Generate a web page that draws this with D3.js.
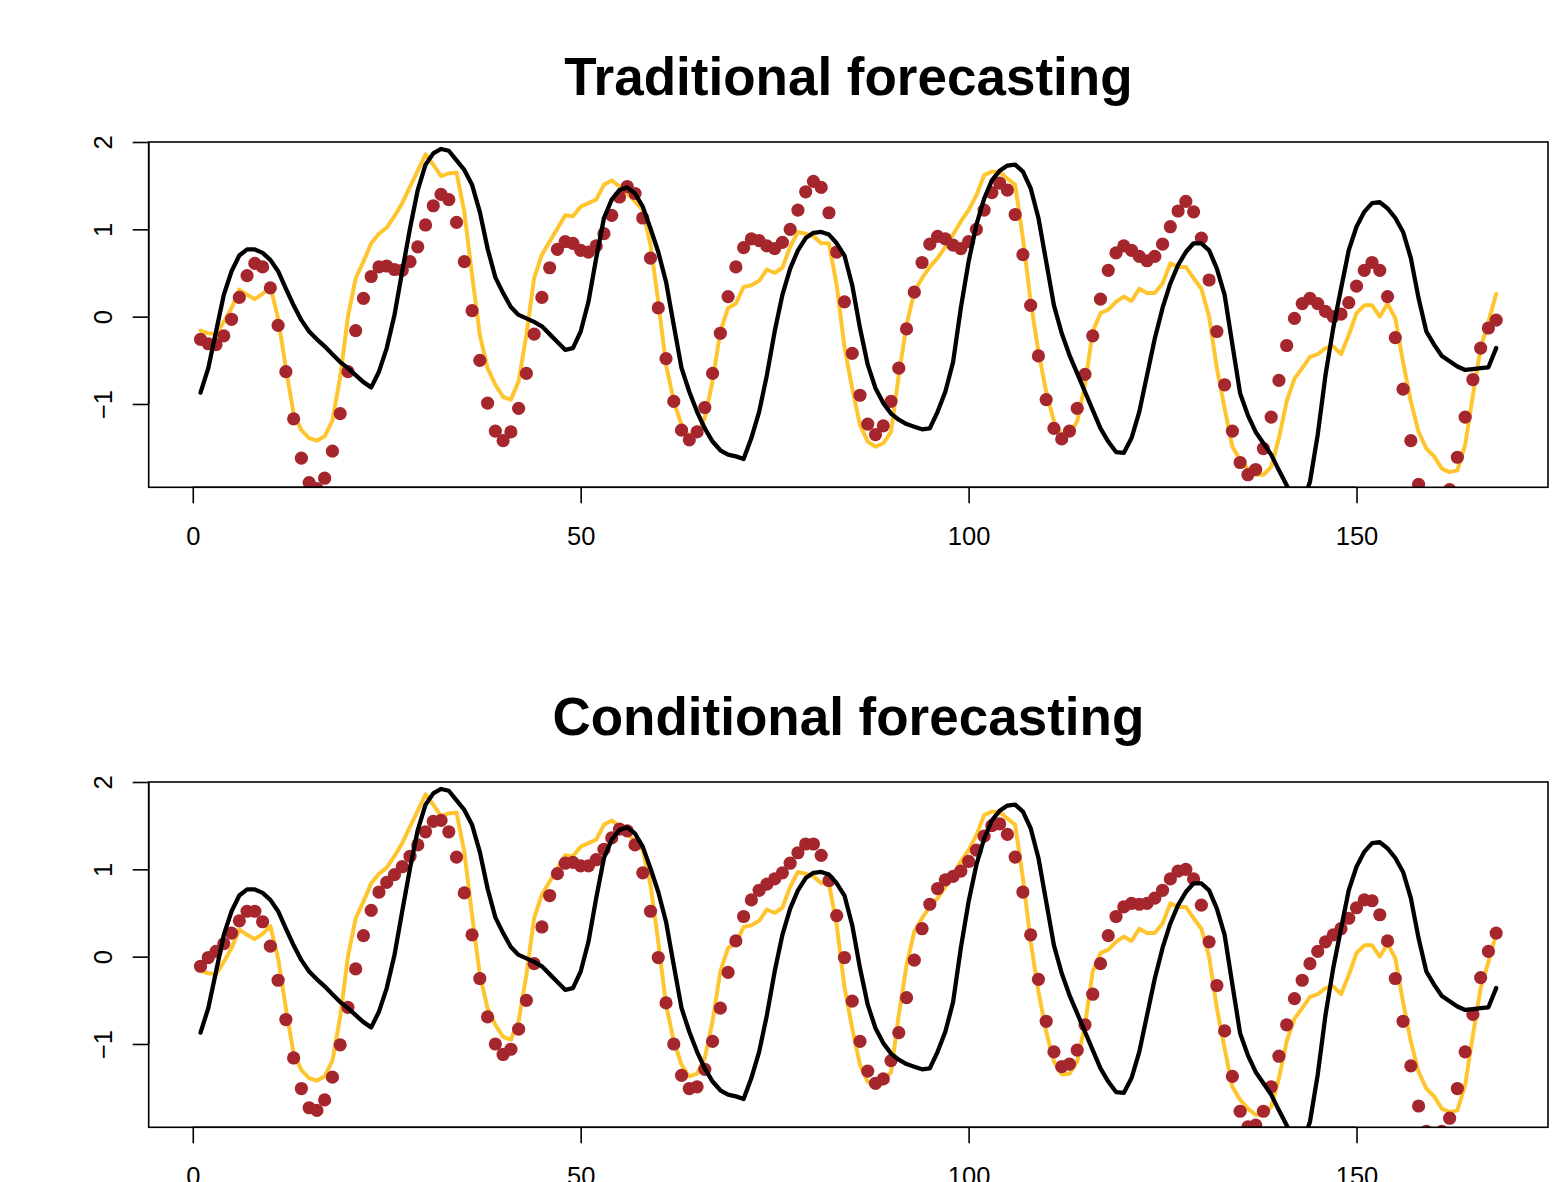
<!DOCTYPE html>
<html>
<head>
<meta charset="utf-8">
<script src="https://cdn.jsdelivr.net/npm/d3@7"></script>
<style>
  html, body { margin: 0; padding: 0; background: #ffffff; }
  svg { display: block; }
  text { font-family: "Liberation Sans", Arial, Helvetica, sans-serif; }
</style>
</head>
<body>
<svg id="chart" width="1565" height="1182"></svg>
<script>
// ---------- data ----------
const panelTitles = ["Traditional forecasting", "Conditional forecasting"];
const xTicks = [0, 50, 100, 150];
const yTicks = [-1, 0, 1, 2];
const yTickLabels = ["\u22121", "0", "1", "2"];

// observed series (yellow line), t = 1..168
const actual = [
  -0.16,-0.19,-0.20,-0.06,0.10,0.31,0.25,0.20,0.26,0.35,
  -0.02,-0.59,-1.11,-1.30,-1.39,-1.42,-1.37,-1.19,-0.69,0.00,
  0.44,0.63,0.84,0.95,1.02,1.15,1.30,1.49,1.67,1.86,
  1.74,1.61,1.64,1.65,1.20,0.48,-0.21,-0.59,-0.78,-0.92,
  -0.95,-0.74,-0.21,0.44,0.71,0.86,1.01,1.16,1.15,1.26,
  1.30,1.34,1.51,1.56,1.49,1.41,1.32,1.22,0.82,0.17,
  -0.55,-0.97,-1.24,-1.37,-1.34,-1.16,-0.74,-0.17,0.10,0.15,
  0.34,0.36,0.41,0.54,0.50,0.56,0.80,0.97,0.95,0.92,
  0.84,0.84,0.36,-0.35,-0.82,-1.24,-1.43,-1.49,-1.45,-1.32,
  -0.67,-0.10,0.29,0.44,0.57,0.67,0.80,0.94,1.09,1.22,
  1.39,1.62,1.66,1.66,1.58,1.51,0.90,0.17,-0.40,-0.86,
  -1.20,-1.35,-1.34,-1.20,-0.78,-0.17,0.04,0.08,0.17,0.23,
  0.18,0.32,0.27,0.27,0.38,0.61,0.57,0.57,0.44,0.32,
  0.00,-0.59,-1.05,-1.49,-1.64,-1.74,-1.81,-1.81,-1.72,-1.39,
  -0.97,-0.71,-0.59,-0.46,-0.43,-0.36,-0.34,-0.43,-0.21,0.04,
  0.13,0.13,0.00,0.15,-0.02,-0.52,-0.97,-1.32,-1.51,-1.60,
  -1.74,-1.78,-1.76,-1.47,-0.90,-0.36,-0.06,0.26
];

// black line series, t = 1..168
const baseline = [
  -0.87,-0.59,-0.17,0.25,0.52,0.70,0.77,0.77,0.73,0.65,
  0.52,0.32,0.13,-0.04,-0.17,-0.26,-0.34,-0.43,-0.52,-0.59,
  -0.67,-0.75,-0.81,-0.63,-0.36,0.02,0.52,1.01,1.45,1.74,
  1.87,1.92,1.90,1.79,1.68,1.51,1.20,0.78,0.45,0.27,
  0.11,0.02,-0.02,-0.06,-0.11,-0.20,-0.29,-0.38,-0.36,-0.17,
  0.17,0.67,1.13,1.34,1.45,1.48,1.41,1.26,1.01,0.74,
  0.40,-0.10,-0.59,-0.86,-1.09,-1.28,-1.43,-1.53,-1.58,-1.60,
  -1.63,-1.39,-1.09,-0.67,-0.17,0.25,0.55,0.76,0.90,0.96,
  0.97,0.94,0.84,0.70,0.36,-0.13,-0.55,-0.82,-0.99,-1.11,
  -1.18,-1.23,-1.26,-1.29,-1.28,-1.09,-0.86,-0.52,0.10,0.63,
  1.05,1.35,1.56,1.67,1.73,1.74,1.66,1.47,1.13,0.63,
  0.13,-0.19,-0.44,-0.65,-0.86,-1.07,-1.28,-1.43,-1.55,-1.56,
  -1.39,-1.09,-0.67,-0.25,0.10,0.38,0.59,0.74,0.84,0.84,
  0.76,0.55,0.25,-0.32,-0.88,-1.13,-1.32,-1.45,-1.58,-1.76,
  -1.93,-2.10,-2.15,-1.89,-1.35,-0.67,-0.13,0.32,0.76,1.03,
  1.20,1.30,1.31,1.24,1.13,0.97,0.67,0.21,-0.17,-0.32,
  -0.45,-0.51,-0.57,-0.61,-0.60,-0.59,-0.58,-0.36
];

// red points, traditional forecasting
const forecastTraditional = [
  -0.26,-0.31,-0.32,-0.22,-0.03,0.22,0.47,0.61,0.57,0.33,
  -0.10,-0.63,-1.17,-1.62,-1.90,-1.97,-1.85,-1.54,-1.11,-0.63,
  -0.16,0.21,0.46,0.57,0.58,0.54,0.53,0.63,0.80,1.05,
  1.27,1.40,1.34,1.08,0.63,0.07,-0.50,-0.99,-1.31,-1.42,
  -1.32,-1.05,-0.65,-0.20,0.22,0.56,0.77,0.86,0.84,0.76,
  0.74,0.81,0.95,1.16,1.37,1.49,1.41,1.13,0.67,0.10,
  -0.48,-0.97,-1.30,-1.41,-1.32,-1.04,-0.65,-0.19,0.23,0.57,
  0.79,0.89,0.87,0.81,0.78,0.85,1.00,1.22,1.43,1.55,
  1.48,1.19,0.74,0.17,-0.42,-0.90,-1.23,-1.35,-1.25,-0.97,
  -0.59,-0.14,0.28,0.62,0.83,0.92,0.89,0.82,0.78,0.86,
  1.00,1.22,1.42,1.53,1.45,1.17,0.71,0.13,-0.45,-0.95,
  -1.28,-1.40,-1.31,-1.05,-0.66,-0.22,0.20,0.53,0.73,0.81,
  0.76,0.69,0.64,0.69,0.83,1.03,1.21,1.32,1.20,0.90,
  0.42,-0.17,-0.78,-1.31,-1.67,-1.81,-1.75,-1.51,-1.15,-0.73,
  -0.33,-0.02,0.15,0.21,0.15,0.06,0.00,0.03,0.16,0.35,
  0.53,0.62,0.53,0.23,-0.24,-0.83,-1.42,-1.92,-2.10,-2.25,
  -2.15,-1.98,-1.61,-1.15,-0.72,-0.36,-0.13,-0.04
];

// red points, conditional forecasting
const forecastConditional = [
  -0.11,-0.01,0.06,0.15,0.27,0.41,0.52,0.52,0.40,0.12,
  -0.27,-0.72,-1.16,-1.51,-1.73,-1.76,-1.64,-1.38,-1.01,-0.58,
  -0.14,0.24,0.53,0.74,0.85,0.94,1.03,1.15,1.28,1.43,
  1.55,1.56,1.43,1.14,0.73,0.25,-0.25,-0.69,-1.00,-1.12,
  -1.06,-0.83,-0.50,-0.08,0.34,0.70,0.95,1.07,1.08,1.04,
  1.04,1.11,1.23,1.36,1.46,1.44,1.28,0.96,0.52,-0.01,
  -0.53,-1.00,-1.36,-1.51,-1.49,-1.29,-0.97,-0.59,-0.18,0.18,
  0.46,0.65,0.76,0.83,0.89,0.96,1.07,1.19,1.29,1.29,
  1.16,0.87,0.47,-0.01,-0.51,-0.97,-1.31,-1.45,-1.40,-1.19,
  -0.87,-0.47,-0.04,0.32,0.60,0.78,0.88,0.92,0.98,1.09,
  1.22,1.38,1.50,1.52,1.40,1.14,0.74,0.25,-0.26,-0.74,
  -1.09,-1.26,-1.23,-1.07,-0.78,-0.43,-0.08,0.24,0.46,0.57,
  0.61,0.60,0.61,0.67,0.76,0.89,0.98,1.00,0.89,0.59,
  0.17,-0.33,-0.85,-1.37,-1.77,-1.95,-1.93,-1.77,-1.49,-1.14,
  -0.78,-0.48,-0.27,-0.08,0.06,0.17,0.25,0.32,0.44,0.56,
  0.65,0.64,0.48,0.18,-0.25,-0.74,-1.25,-1.71,-2.00,-2.10,
  -2.00,-1.85,-1.51,-1.09,-0.66,-0.24,0.06,0.27
];

// ---------- layout ----------
const W = 1565, H = 1182;
const plotLeft = 148.7, plotRight = 1548;
const panelTop = [142, 782];
const panelHeight = 345.3;
const colYellow = "#FFC52E";
const colRed = "#A6262E";
const colBlack = "#000000";

const svg = d3.select("#chart");
svg.append("rect").attr("width", W).attr("height", H).attr("fill", "#fff");

const n = actual.length;
const tIdx = d3.range(1, n + 1);
const pad = (n - 1) * 0.04;
const x = d3.scaleLinear().domain([1 - pad, n + pad]).range([plotLeft, plotRight]);

const forecasts = [forecastTraditional, forecastConditional];

panelTop.forEach((top, p) => {
  const bottom = top + panelHeight;
  const y = d3.scaleLinear().domain([-1.954, 2.0]).range([bottom, top]);
  const g = svg.append("g");

  const clipId = "clip" + p;
  svg.append("clipPath").attr("id", clipId)
    .append("rect")
    .attr("x", plotLeft).attr("y", top)
    .attr("width", plotRight - plotLeft).attr("height", panelHeight);

  const plot = g.append("g").attr("clip-path", `url(#${clipId})`);

  const line = d3.line().x((d, i) => x(tIdx[i])).y(d => y(d));

  // observed (yellow)
  plot.append("path")
    .datum(actual)
    .attr("d", line)
    .attr("fill", "none")
    .attr("stroke", colYellow)
    .attr("stroke-width", 4)
    .attr("stroke-linejoin", "round")
    .attr("stroke-linecap", "round");

  // forecast points (red)
  plot.append("g").selectAll("circle")
    .data(forecasts[p])
    .join("circle")
    .attr("cx", (d, i) => x(tIdx[i]))
    .attr("cy", d => y(d))
    .attr("r", 6.6)
    .attr("fill", colRed);

  // black line
  plot.append("path")
    .datum(baseline)
    .attr("d", line)
    .attr("fill", "none")
    .attr("stroke", colBlack)
    .attr("stroke-width", 4.3)
    .attr("stroke-linejoin", "round")
    .attr("stroke-linecap", "round");

  // box
  g.append("rect")
    .attr("x", plotLeft).attr("y", top)
    .attr("width", plotRight - plotLeft).attr("height", panelHeight)
    .attr("fill", "none").attr("stroke", "#000").attr("stroke-width", 1.6);

  // x axis
  const xAxis = d3.axisBottom(x).tickValues(xTicks).tickSize(16).tickPadding(24)
    .tickFormat(d3.format("d"));
  const xa = g.append("g").attr("transform", `translate(0,${bottom})`).call(xAxis);
  xa.select(".domain").attr("d", `M${x(xTicks[0])},0H${x(xTicks[xTicks.length-1])}`)
    .attr("stroke-width", 1.6);
  xa.selectAll(".tick line").attr("stroke-width", 1.6);
  xa.selectAll(".tick text")
    .attr("font-size", 25.5).attr("fill", "#000")
    .style("font-family", '"Liberation Sans", Arial, sans-serif');

  // y axis
  const yAxis = d3.axisLeft(y).tickValues(yTicks).tickSize(16)
    .tickFormat((d, i) => yTickLabels[i]);
  const ya = g.append("g").attr("transform", `translate(${plotLeft},0)`).call(yAxis);
  ya.select(".domain").attr("d", `M0,${y(yTicks[0])}V${y(yTicks[yTicks.length-1])}`)
    .attr("stroke-width", 1.6);
  ya.selectAll(".tick line").attr("stroke-width", 1.6);
  ya.selectAll(".tick text")
    .attr("x", null).attr("dy", null)
    .attr("text-anchor", "middle")
    .attr("transform", `translate(${111.7 - plotLeft},0) rotate(-90)`)
    .attr("font-size", 25.5).attr("fill", "#000")
    .style("font-family", '"Liberation Sans", Arial, sans-serif');

  // title
  svg.append("text")
    .attr("x", (plotLeft + plotRight) / 2)
    .attr("y", top - 47)
    .attr("text-anchor", "middle")
    .attr("font-size", 53)
    .attr("font-weight", "bold")
    .attr("fill", "#000")
    .text(panelTitles[p]);
});
</script>
</body>
</html>
